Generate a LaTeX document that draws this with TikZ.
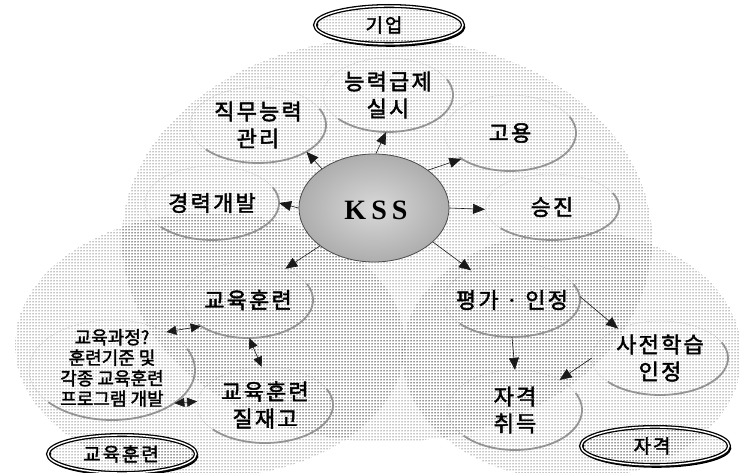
\documentclass[tikz,border=0pt]{standalone}
\usepackage{fontspec}
\newfontfamily\krfont[LetterSpace=10,FakeBold=2]{Noto Sans CJK KR}
\newfontfamily\krsmall[FakeBold=1.8]{Noto Sans CJK KR}
\newfontfamily\kssfont[LetterSpace=18]{Liberation Serif}
\usetikzlibrary{shapes.geometric,patterns,arrows.meta}
\pgfdeclareradialshading{kssshade}{\pgfpoint{0bp}{0bp}}{color(0bp)=(black!15); color(25bp)=(black!32); color(42bp)=(black!55); color(50bp)=(black!72)}
\tikzset{
  cloud/.style={pattern=dots, pattern color=black},
  subshape/.style={ellipse, inner sep=0pt},
  subtext/.style={inner sep=0pt, align=center, font=\krfont\fontsize{22}{27}\selectfont},
  shadowarc/.style={draw=black!42, line width=1.8pt},
  faintline/.style={draw=black!30, line width=0.5pt, densely dotted},
  tagell/.style={ellipse, draw=black, line width=1.3pt, double=white, double distance=1.4pt,
     pattern=dots, pattern color=black, minimum width=148, minimum height=38, inner sep=0pt},
  tagshadow/.style={draw=black, line width=1.6pt},
  tagtext/.style={inner sep=0pt, font=\krfont\fontsize{19}{20}\selectfont},
  arr/.style={draw=black!90, line width=0.6pt, -{Triangle[length=12pt,width=10pt]}},
  darr/.style={draw=black!90, line width=0.6pt, {Triangle[length=10pt,width=9pt]}-{Triangle[length=10pt,width=9pt]}},
}
% name, cx, cy (screen), rx, ry, text
\newcommand{\subell}[6]{%
  \node[subshape, minimum width=2*#4, minimum height=2*#5] (#1) at (#2,-#3) {};
  \draw[faintline] (#2,-#3) ellipse [x radius=#4, y radius=#5];
  \draw[shadowarc] (#2,-#3) ++(25:#4 and #5) arc[start angle=25, end angle=-140, x radius=#4, y radius=#5];
  \node[subtext] (#1t) at (#1.center) {#6};
}
\newcommand{\tagell}[5]{% name, cx, cy, text x, text
  \draw[tagshadow] (#2+1.5,-#3-2) ++(10:74 and 19) arc[start angle=10, end angle=-190, x radius=74, y radius=19];
  \node[tagell] (#1) at (#2,-#3) {};
  \node[tagtext] (#1t) at (#4,-#3) {#5};
}
\begin{document}
\begin{tikzpicture}[x=1pt,y=1pt]
\useasboundingbox (0,0) rectangle (740,-473);
% big clouds
\fill[cloud] (387,-240) ellipse [x radius=265, y radius=202];
\fill[cloud] (210,-345) ellipse [x radius=195, y radius=132];
\fill[cloud] (572,-355) ellipse [x radius=170, y radius=125];
% tag ellipses
\tagell{tagA}{389}{25}{384}{기업}
\tagell{tagB}{122}{454}{121}{교육훈련}
\tagell{tagC}{655}{446}{652}{자격}
% sub ellipses
\subell{ngr}{388}{95}{65}{37}{능력급제\\실시}
\subell{jm}{258}{125}{68}{38}{직무능력\\관리}
\subell{gr}{212}{203}{67}{37}{경력개발}
\subell{gy}{510}{133}{66}{38}{고용}
\subell{sj}{552}{207}{67}{33}{승진}
\subell{gh}{248}{300}{65}{38}{교육훈련}
\subell{jjg}{265}{405}{68}{38}{교육훈련\\질재고}
\subell{pg}{512}{300}{68}{37}{평가 · 인정}
\subell{sjh}{660}{358}{68}{37}{사전학습\\인정}
\subell{jgc}{515}{410}{67}{40}{자격\\취득}
% education course block
\node[subshape, minimum width=166, minimum height=100] (gj) at (112,-370) {};
\draw[faintline] (112,-370) ellipse [x radius=83, y radius=50];
\draw[shadowarc] (112,-370) ++(25:83 and 50) arc[start angle=25, end angle=-140, x radius=83, y radius=50];
\node[inner sep=0pt, align=center, font=\krsmall\fontsize{18}{20.5}\selectfont] (gjt) at (112,-368) {교육과정?\\훈련기준 및\\각종 교육훈련\\프로그램 개발};
% KSS
\node[ellipse, minimum width=150, minimum height=108, shading=kssshade, draw=black!70, line width=0.8pt] (kss) at (374,-208) {};
\node[inner sep=0pt, font=\kssfont\bfseries\fontsize{28}{28}\selectfont] (ksst) at (376,-210) {KSS};
% arrows
\draw[arr] (kss.143) -- (jm.-29);
\draw[arr] (kss.88) -- (ngr.-93);
\draw[arr] (kss.35) -- (gy.-152);
\draw[arr] (kss.0) -- (sj.182);
\draw[arr] (kss.180) -- (gr.0);
\draw[arr] (kss.-145) -- (gh.40);
\draw[arr] (kss.-30) -- (pg.144);
\draw[darr] (gh.-151) -- (gj.35);
\draw[darr] (gh.-88) -- (jjg.95);
\draw[darr] (gj.-28) -- (jjg.177);
\draw[arr] (pg.3) -- (sjh.145);
\draw[arr] (pg.-90) -- (jgc.90);
\draw[arr] (sjh.180) -- (jgc.34);
\end{tikzpicture}
\end{document}
